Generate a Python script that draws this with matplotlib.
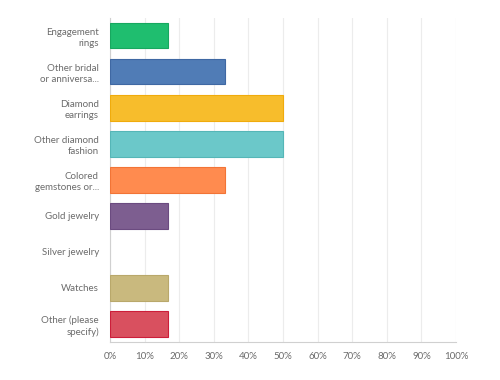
import matplotlib
matplotlib.use("Agg")
import matplotlib.pyplot as plt
from matplotlib.ticker import FuncFormatter

plt.rcParams['font.family'] = ['Lato', 'DejaVu Sans']

# survey answers, top to bottom
labels = ["Engagement\nrings", "Other bridal\nor anniversa...", "Diamond\nearrings",
          "Other diamond\nfashion", "Colored\ngemstones or...", "Gold jewelry",
          "Silver jewelry", "Watches", "Other (please\nspecify)"]
pcts = [16.67, 33.33, 50.0, 50.0, 33.33, 16.67, 0.0, 16.67, 16.67]
colors = ["#1fbe6f", "#507cb6", "#f7bd2c", "#6bc8c9", "#ff8b4f",
          "#7d5e90", "#a3a3a3", "#c9b97e", "#d9505f"]
edges = ["#17a85f", "#3f68a3", "#f0ab0c", "#55b6b7", "#f27436",
         "#6b4b80", "#8a8a8a", "#b9a86b", "#cc1e3a"]

fig = plt.figure(figsize=(5, 3.8), dpi=100)
ax = fig.add_axes([0.22, 0.1, 0.692, 0.853])

ypos = list(range(len(labels)))
widths = [0.8 if p > 0 else 0 for p in pcts]
ax.barh(ypos, pcts, height=0.7, color=colors, edgecolor=edges, linewidth=widths, zorder=3)

ax.set_xlim(0, 100)
ax.set_ylim(len(labels) - 0.5, -0.5)
ax.set_xticks(range(0, 101, 10))
ax.xaxis.set_major_formatter(FuncFormatter(lambda v, p: "%d%%" % v))
ax.set_yticks(ypos)
ax.set_yticklabels(labels, ha='right', linespacing=1.3)

ax.grid(axis='x', color='#ececec', linewidth=0.8, zorder=0)
for s in ['top', 'right']:
    ax.spines[s].set_visible(False)
ax.spines['left'].set_color('#d0d0d0')
ax.spines['bottom'].set_color('#d0d0d0')
ax.tick_params(axis='both', length=0, colors='#6b6b6b', labelsize=7)
ax.tick_params(axis='x', pad=7)
ax.tick_params(axis='y', pad=8)

fig.savefig("out.png", dpi=100)
